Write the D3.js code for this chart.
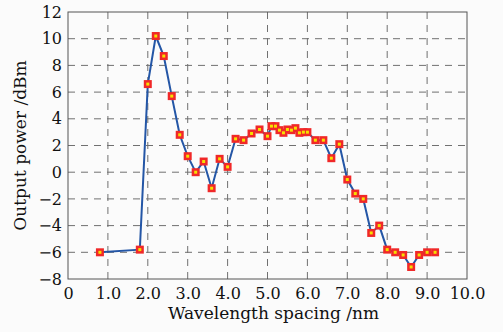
<!DOCTYPE html>
<html>
<head>
<meta charset="utf-8">
<script src="https://cdn.jsdelivr.net/npm/d3@7"></script>
<style>
  body { margin: 0; background: #fbfbfb; }
  svg { display: block; }
  .tick text { font-family: "DejaVu Serif", serif; }
</style>
</head>
<body>
<div id="chart"></div>
<script>
// wavelength spacing (nm) and output power (dBm)
const spacing = [0.8, 1.8, 2.0, 2.2, 2.4, 2.6, 2.8, 3.0, 3.2, 3.4, 3.6, 3.8, 4.0, 4.2, 4.4, 4.6, 4.8, 5.0,
    5.1, 5.2, 5.3, 5.4, 5.5, 5.6, 5.7, 5.8, 5.9, 6.0, 6.2, 6.4, 6.6, 6.8, 7.0, 7.2, 7.4, 7.6, 7.8,
    8.0, 8.2, 8.4, 8.6, 8.8, 9.0, 9.2]
const power = [-6.0, -5.8, 6.6, 10.2, 8.7, 5.7, 2.8, 1.2, 0.0, 0.8, -1.2, 1.0, 0.4, 2.5, 2.4, 2.9, 3.2, 2.7,
    3.45, 3.45, 3.15, 2.95, 3.2, 3.15, 3.3, 2.95, 3.0, 3.0, 2.4, 2.4, 1.05, 2.1, -0.55, -1.6, -2.0, -4.55, -4.0,
    -5.8, -6.0, -6.2, -7.1, -6.2, -6.0, -6.0]
const xTicks = [0, 1, 2, 3, 4, 5, 6, 7, 8, 9, 10]
const yTicks = [-8, -6, -4, -2, 0, 2, 4, 6, 8, 10, 12]

const width = 503, height = 332
const margin = ({top: 12, right: 36, bottom: 53, left: 68})

const data = spacing.map((s, i) => ({x: s, y: power[i]}))

const svg = d3.select('#chart').append('svg')
    .attr('width', width)
    .attr('height', height)

const xScale = d3.scaleLinear()
    .domain([0, 10])
    .range([margin.left, width - margin.right])
const yScale = d3.scaleLinear()
    .domain([-8, 12])
    .range([height - margin.bottom, margin.top])

// dashed grid
svg.append('g')
    .selectAll('line')
    .data(xTicks.slice(1, -1))
    .join('line')
    .attr('x1', d => xScale(d)).attr('x2', d => xScale(d))
    .attr('y1', yScale(12)).attr('y2', yScale(-8))
    .attr('stroke', '#707070')
    .attr('stroke-width', 1)
    .attr('stroke-dasharray', '7,6')
svg.append('g')
    .selectAll('line')
    .data(yTicks.slice(1, -1))
    .join('line')
    .attr('x1', xScale(0)).attr('x2', xScale(10))
    .attr('y1', d => yScale(d)).attr('y2', d => yScale(d))
    .attr('stroke', '#707070')
    .attr('stroke-width', 1)
    .attr('stroke-dasharray', '7,6')

// axes, labels only
const xAxis = d3.axisBottom(xScale)
    .tickValues(xTicks)
    .tickSize(0)
    .tickPadding(9)
    .tickFormat(d => d === 0 ? '0' : d3.format('.1f')(d))
const yAxis = d3.axisLeft(yScale)
    .tickValues(yTicks)
    .tickSize(0)
    .tickPadding(6)
    .tickFormat(d => d < 0 ? '\u2212' + Math.abs(d) : String(d))

svg.append('g')
    .attr('transform', `translate(0,${yScale(-8)})`)
    .call(xAxis)
    .call(g => g.select('.domain').remove())
    .selectAll('text')
    .attr('font-size', 16)
    .attr('fill', '#111')
svg.append('g')
    .attr('transform', `translate(${xScale(0)},0)`)
    .call(yAxis)
    .call(g => g.select('.domain').remove())
    .selectAll('text')
    .attr('font-size', 16)
    .attr('fill', '#111')

// frame
svg.append('rect')
    .attr('x', xScale(0)).attr('y', yScale(12))
    .attr('width', xScale(10) - xScale(0))
    .attr('height', yScale(-8) - yScale(12))
    .attr('fill', 'none')
    .attr('stroke', '#555')
    .attr('stroke-width', 1)

// data line
const line = d3.line()
    .x(d => xScale(d.x))
    .y(d => yScale(d.y))
svg.append('path')
    .datum(data)
    .attr('fill', 'none')
    .attr('stroke', '#2456a6')
    .attr('stroke-width', 2)
    .attr('d', line)

// square markers: red with yellow centre
svg.append('g')
    .selectAll('rect')
    .data(data)
    .join('rect')
    .attr('x', d => xScale(d.x) - 4)
    .attr('y', d => yScale(d.y) - 4)
    .attr('width', 8).attr('height', 8)
    .attr('fill', '#f02828')
svg.append('g')
    .selectAll('rect')
    .data(data)
    .join('rect')
    .attr('x', d => xScale(d.x) - 1.5)
    .attr('y', d => yScale(d.y) - 1.5)
    .attr('width', 3).attr('height', 3)
    .attr('fill', '#f5e000')

// titles
svg.append('text')
    .attr('x', (xScale(0) + xScale(10)) / 2 + 6)
    .attr('y', 319)
    .attr('text-anchor', 'middle')
    .attr('font-family', '"DejaVu Serif", serif')
    .attr('font-size', 17)
    .attr('fill', '#111')
    .text('Wavelength spacing /nm')
svg.append('text')
    .attr('transform', `translate(26,${(yScale(12) + yScale(-8)) / 2}) rotate(-90)`)
    .attr('text-anchor', 'middle')
    .attr('font-family', '"DejaVu Serif", serif')
    .attr('font-size', 17)
    .attr('fill', '#111')
    .text('Output power /dBm')
</script>
</body>
</html>
